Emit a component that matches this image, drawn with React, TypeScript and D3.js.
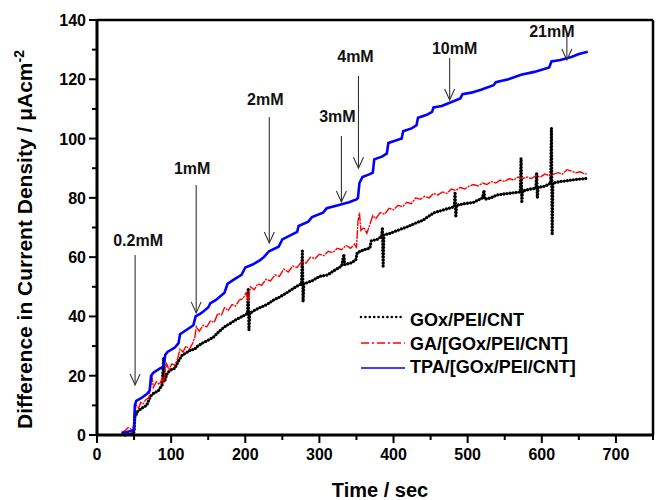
import React from "react";
import * as d3 from "d3";

// ---- data (time in sec, current density difference in µA/cm²) ----
const tpaSeries: [number, number][] = [
  [33, 0.5], [40, 1], [48, 1.5], [50, 2], [51, 10], [53, 11.5], [60, 12.5], [68, 14], [71, 15],
  [73, 20], [76, 21], [85, 22.5], [90, 23], [92, 27], [95, 28], [105, 29.5], [110, 31], [112, 34],
  [118, 35], [130, 37], [133, 40], [140, 41], [150, 43], [153, 44.5], [160, 45.5], [172, 48],
  [176, 51], [185, 52.5], [195, 54], [200, 56.5], [210, 57.5], [220, 59], [225, 60], [232, 62],
  [245, 63.5], [250, 66], [262, 67.5], [270, 68.5], [272, 70.5], [285, 72], [290, 73.5],
  [305, 75], [310, 76.5], [325, 77.5], [340, 78.5], [350, 79.5], [352, 80], [354, 85], [358, 87],
  [368, 88], [372, 88.5], [374, 93], [385, 94], [391, 95], [393, 98.5], [405, 99.5], [411, 100],
  [413, 102.5], [425, 103.5], [431, 104.5], [433, 107], [445, 108], [452, 109], [454, 110.5],
  [465, 111], [475, 112], [490, 113.5], [493, 115], [505, 115.5], [518, 116.5], [535, 118],
  [538, 119], [555, 120], [572, 121.5], [590, 122.5], [610, 124], [613, 126], [625, 126.5],
  [640, 127.5], [650, 128.5], [662, 129.3],
];

const gaSeries: [number, number][] = [
  [33, 1], [38, 1.5], [42, 2.5], [46, 2], [49, 2.5], [51, 8], [53, 10], [56, 9], [59, 11],
  [62, 10.5], [66, 12], [70, 12.5], [72, 16], [74, 20], [76, 16], [80, 18], [84, 17], [88, 19],
  [90, 17.5], [92, 22], [94, 24], [97, 22], [101, 24], [105, 23.5], [109, 26], [112, 29],
  [116, 28], [120, 30], [125, 29], [129, 31], [132, 33], [134, 36.5], [138, 35], [143, 37],
  [148, 36.5], [153, 38.5], [158, 38], [163, 41], [168, 40.5], [172, 43], [177, 42], [182, 44],
  [187, 43.5], [192, 45.5], [197, 46], [201, 48], [204, 45], [207, 50], [212, 49], [217, 51],
  [222, 50.5], [228, 52.5], [234, 52], [240, 54], [246, 53.5], [252, 56], [258, 55], [264, 57],
  [270, 56.5], [276, 58.5], [282, 58], [288, 60], [294, 59.5], [300, 61], [306, 60.5], [312, 62],
  [318, 61.5], [324, 63], [330, 62.5], [336, 64], [342, 63], [348, 64.5], [350, 63], [352, 72],
  [354, 75], [356, 69], [360, 70], [364, 68], [368, 71], [372, 74], [376, 73], [382, 75],
  [388, 74.5], [394, 76.5], [400, 76], [406, 77.5], [412, 77], [418, 78.5], [424, 78], [430, 80],
  [436, 79.5], [442, 80.5], [448, 80], [454, 81.5], [460, 81], [466, 82], [472, 81.5], [478, 83],
  [484, 82.5], [490, 83.5], [496, 83], [502, 84], [508, 84.5], [514, 84], [520, 85], [526, 84.5],
  [532, 85.5], [538, 85], [544, 86], [550, 85.5], [556, 86.5], [562, 86], [568, 87], [574, 86.5],
  [580, 87], [586, 86.5], [592, 87.5], [598, 87], [604, 88], [610, 87.5], [616, 88], [622, 88.5],
  [628, 88], [634, 89.5], [640, 89], [646, 88.5], [652, 88.8], [658, 88], [662, 88.3],
];

const goxSeries: [number, number][] = [
  [38, 0], [44, 0.3], [48, 0.5], [50, 1], [51, 6], [55, 8], [60, 9], [67, 10], [72, 13], [76, 14],
  [83, 15], [88, 17], [90, 26], [91, 18], [95, 21], [100, 22], [105, 22.5], [110, 25], [115, 27],
  [119, 27.5], [125, 28.5], [132, 29], [136, 30], [142, 31], [150, 32], [157, 33], [165, 35],
  [172, 36.5], [180, 37.7], [188, 39], [196, 40], [203, 41], [204, 49], [205, 35.5], [206, 41],
  [212, 42], [220, 43], [229, 44], [238, 45.5], [246, 46.5], [256, 48], [265, 49.5], [272, 50.5],
  [276, 51], [277, 62], [278, 45], [279, 51], [290, 52], [300, 53.5], [311, 54], [320, 55.5],
  [330, 57], [333, 61], [334, 57.5], [342, 58], [349, 59], [351, 61.5], [360, 62.5], [368, 63],
  [370, 65.5], [378, 66], [384, 67], [385, 70], [386, 57], [387, 67.5], [395, 68], [405, 69],
  [419, 70.3], [430, 71.5], [440, 72.5], [446, 73.6], [455, 75], [468, 76], [482, 77], [483, 82],
  [484, 73.5], [485, 77.5], [495, 78], [508, 78.5], [520, 80], [522, 82.5], [523, 79.5],
  [531, 80], [540, 81], [555, 81.5], [571, 82], [572, 93.3], [573, 78.3], [574, 82.3], [585, 83],
  [592, 83.2], [593, 88.4], [594, 80], [595, 83.5], [605, 84], [612, 85], [613, 103.5],
  [614, 67.5], [615, 85], [625, 85.5], [640, 86], [650, 86.3], [662, 86.6],
];

const seriesNames = ["GOx/PEI/CNT", "GA/[GOx/PEI/CNT]", "TPA/[GOx/PEI/CNT]"];

// annotation arrows: concentration label, time of addition, arrow top and tip (current density)
const arrowLabels = ["0.2mM", "1mM", "2mM", "3mM", "4mM", "10mM", "21mM"];
const arrowTimes = [51.4, 133.8, 232.4, 329.7, 352.7, 475.7, 633.8];
const arrowTops = [60.7, 84.3, 107.3, 100.9, 121.1, 127.2, 135.6];
const arrowTips = [16.9, 41.2, 64.8, 78.6, 90, 113, 126.5];

const xTicks = [0, 100, 200, 300, 400, 500, 600, 700];
const yTicks = [0, 20, 40, 60, 80, 100, 120, 140];

// layout
const W = 660, H = 500;
const M = { left: 97, right: 7, top: 20, bottom: 65 };
const labelOffsets: [number, number][] = [
  [3, -9], [-4, -11], [-4, -12], [-4, -14], [-3, -14], [5, -4], [-15, 4],
];
const FONT = "'Liberation Sans', Arial, Helvetica, sans-serif";

export default function App() {
  const x = d3.scaleLinear().domain([0, 750]).range([M.left, W - M.right]);
  const y = d3.scaleLinear().domain([0, 140]).range([H - M.bottom, M.top]);
  const line = d3.line<[number, number]>().x((d) => x(d[0])).y((d) => y(d[1]));

  const x0 = x(0), x1 = x(750), y0 = y(0), y1 = y(140);
  const xMinor = d3.range(50, 751, 100);
  const yMinor = d3.range(10, 141, 20);

  return (
    <svg width={W} height={H} style={{ position: "absolute", left: 0, top: 0, background: "#fff" }}
      fontFamily={FONT}>
      {/* curves */}
      <path d={line(goxSeries) || ""} fill="none" stroke="#000" strokeWidth={3.3}
        strokeDasharray="0 3.1" strokeLinecap="round" />
      <path d={line(gaSeries) || ""} fill="none" stroke="#ff0000" strokeWidth={1.4}
        strokeDasharray="9 1 2 1" />
      <path d={line(tpaSeries) || ""} fill="none" stroke="#0000ff" strokeWidth={2.6} />

      {/* arrows */}
      {arrowLabels.map((lab, i) => {
        const ax = x(arrowTimes[i]);
        const top = y(arrowTops[i]);
        const tip = y(arrowTips[i]);
        const [dx, dy] = labelOffsets[i];
        return (
          <g key={lab}>
            <line x1={ax} x2={ax} y1={top} y2={tip} stroke="#333" strokeWidth={1.1} />
            <polyline points={`${ax - 5},${tip - 11} ${ax},${tip} ${ax + 5},${tip - 11}`}
              fill="none" stroke="#333" strokeWidth={1.1} />
            <text x={ax + dx} y={top + dy} textAnchor="middle" fontSize={16} fontWeight="bold"
              fill="#111">{lab}</text>
          </g>
        );
      })}

      {/* frame */}
      <line x1={x0} x2={x1} y1={y1} y2={y1} stroke="#000" strokeWidth={2.5} />
      <line x1={x1} x2={x1} y1={y1} y2={y0} stroke="#000" strokeWidth={2.5} />
      <line x1={x0} x2={x1 + 1} y1={y0} y2={y0} stroke="#000" strokeWidth={3} />
      <line x1={x0} x2={x0} y1={y1 - 1} y2={y0} stroke="#000" strokeWidth={3} />

      {/* x ticks */}
      {xTicks.map((t) => (
        <g key={"xt" + t}>
          <line x1={x(t)} x2={x(t)} y1={y0} y2={y0 + 8} stroke="#000" strokeWidth={2} />
          <text x={x(t)} y={y0 + 25} textAnchor="middle" fontSize={16} fontWeight="bold">{t}</text>
        </g>
      ))}
      {xMinor.map((t) => (
        <line key={"xm" + t} x1={x(t)} x2={x(t)} y1={y0} y2={y0 + 5} stroke="#000" strokeWidth={2} />
      ))}
      {/* y ticks */}
      {yTicks.map((t) => (
        <g key={"yt" + t}>
          <line x1={x0 - 8} x2={x0} y1={y(t)} y2={y(t)} stroke="#000" strokeWidth={2} />
          <text x={x0 - 11} y={y(t) + 6} textAnchor="end" fontSize={16} fontWeight="bold">{t}</text>
        </g>
      ))}
      {yMinor.map((t) => (
        <line key={"ym" + t} x1={x0 - 5} x2={x0} y1={y(t)} y2={y(t)} stroke="#000" strokeWidth={2} />
      ))}

      {/* axis titles */}
      <text x={(x0 + x1) / 2 + 5} y={497} textAnchor="middle" fontSize={20} fontWeight="bold">Time / sec</text>
      <text transform={`translate(32, ${(y0 + y1) / 2 + 12}) rotate(-90)`} textAnchor="middle"
        fontSize={21} fontWeight="bold">
        Difference in Current Density / μAcm<tspan dy={-8} fontSize={14}>-2</tspan>
      </text>

      {/* legend */}
      {seriesNames.map((name, i) => {
        const ly = [326, 350, 373][i];
        return (
          <g key={name}>
            {i === 0 && <line x1={361} x2={405} y1={ly - 9} y2={ly - 9} stroke="#000" strokeWidth={2.6}
              strokeDasharray="0 4.4" strokeLinecap="round" />}
            {i === 1 && <line x1={361} x2={405} y1={ly - 7} y2={ly - 7} stroke="#ff0000" strokeWidth={1.4}
              strokeDasharray="8 3 2 3" />}
            {i === 2 && <line x1={361} x2={405} y1={ly - 5} y2={ly - 5} stroke="#0000ff" strokeWidth={1.6} />}
            <text x={410} y={ly} fontSize={18} fontWeight="bold">{name}</text>
          </g>
        );
      })}
    </svg>
  );
}
